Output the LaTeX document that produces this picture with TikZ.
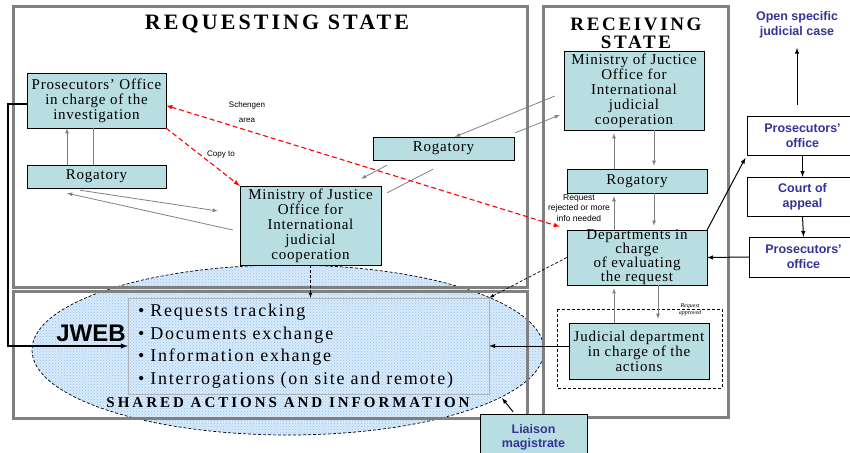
\documentclass[tikz,border=0pt]{standalone}
\usepackage{fontspec}
\setmainfont{Liberation Serif}
\setsansfont{Liberation Sans}
\newfontfamily\boxfont[LetterSpace=5]{Liberation Serif}
\newfontfamily\capsfont[LetterSpace=14]{Liberation Serif}
\newfontfamily\listfont[LetterSpace=10]{Liberation Serif}
\usetikzlibrary{positioning}
\usetikzlibrary{patterns}
\definecolor{boxcyan}{RGB}{184,222,225}
\definecolor{framegray}{RGB}{128,128,128}
\definecolor{labelblue}{RGB}{51,51,153}
\definecolor{cloudpale}{RGB}{216,234,251}
\definecolor{clouddots}{RGB}{150,196,240}
\tikzset{basic/.style={draw,fill=boxcyan,align=center,inner sep=0pt,
                       font=\boxfont\fontsize{15}{15}\selectfont}}
\tikzset{outlined/.style={draw,fill=white,text=labelblue,align=center,
                          font=\sffamily\bfseries\fontsize{12.5}{15}\selectfont}}
\tikzset{statetitle/.style={align=center,
                            font=\capsfont\bfseries\fontsize{22}{18}\selectfont}}
\tikzset{smalltext/.style={align=center,font=\sffamily\fontsize{8}{15}\selectfont}}
\tikzset{frame/.style={draw=framegray,line width=3pt}}
\tikzset{link/.style={draw=gray,line width=0.8pt}}
\tikzset{blacklink/.style={draw=black,line width=1pt}}
\tikzset{dashlink/.style={draw=black,line width=0.7pt,dash pattern=on 3pt off 2pt}}
\tikzset{redlink/.style={draw=red,line width=1.1pt,dash pattern=on 5pt off 3pt}}

\begin{document}
\begin{tikzpicture}[x=1pt,y=-1pt,>=latex]
    \useasboundingbox (0,0) rectangle (850,452);

    \draw[preaction={fill=cloudpale},pattern=crosshatch dots,pattern color=clouddots,dashlink]
        (288,350) ellipse [x radius=256pt, y radius=85pt];

    \draw[frame] (13,7) rectangle (527,287);
    \draw[frame] (13,291) rectangle (527,418);
    \draw[frame] (543,7) rectangle (728,417);
    \draw[dashlink] (557,309) rectangle (722,388);

    \node[statetitle] (reqstate) at (277,24) {REQUESTING STATE};
    \node[statetitle,font=\capsfont\bfseries\fontsize{19}{18}\selectfont] (recstate) at (636,33) {RECEIVING\\STATE};

    \node[basic,minimum width=139pt,minimum height=55pt] (pros) at (96.5,100.5) {Prosecutors’ Office\\in charge of the\\investigation};
    \node[basic,minimum width=139pt,minimum height=23pt] (rogl) at (96.5,176.5) {Rogatory};
    \node[basic,minimum width=141pt,minimum height=79pt] (minl) at (310.5,225.5) {Ministry of Justice\\Office for\\International\\judicial\\cooperation};
    \node[basic,minimum width=141pt,minimum height=23pt] (rogm) at (443.5,148.5) {Rogatory};

    \node[basic,minimum width=140pt,minimum height=79pt] (minr) at (634,90.5) {Ministry of Juctice\\Office for\\International\\judicial\\cooperation};
    \node[basic,minimum width=140pt,minimum height=24pt] (rogr) at (637,181) {Rogatory};
    \node[basic,minimum width=140pt,minimum height=55pt,font=\boxfont\fontsize{15}{14}\selectfont] (dept) at (637,257.5) {Departments in\\charge\\of evaluating\\the request};
    \node[basic,minimum width=140pt,minimum height=56pt] (jud) at (639,351) {Judicial department\\in charge of the\\actions};

    \node[draw=gray!60,minimum width=361pt,minimum height=96pt,text width=341pt,inner xsep=10pt,align=left,
          font=\listfont\fontsize{18}{22.6}\selectfont] (shared) at (308.5,346)
        {\textbullet{} Requests tracking\\\textbullet{} Documents exchange\\\textbullet{} Information exhange\\\textbullet{} Interrogations (on site and remote)};
    \node[font=\sffamily\bfseries\fontsize{24}{24}\selectfont] (jweb) at (91,333) {JWEB};
    \node[statetitle,font=\capsfont\bfseries\fontsize{15}{15}\selectfont\addfontfeature{LetterSpace=20}] (sharedtitle) at (288,403) {SHARED ACTIONS AND INFORMATION};

    \node[align=center,text=labelblue,font=\sffamily\bfseries\fontsize{12.5}{15}\selectfont] (opencase) at (797,25) {Open specific\\judicial case};
    \node[outlined,minimum width=111pt,minimum height=39pt] (profa) at (802.5,135.5) {Prosecutors’\\office};
    \node[outlined,minimum width=111pt,minimum height=39pt] (appeal) at (802.5,196.5) {Court of\\appeal};
    \node[outlined,minimum width=109pt,minimum height=40pt] (profb) at (803.5,257) {Prosecutors’\\office};
    \node[outlined,fill=boxcyan,minimum width=107pt,minimum height=47pt,font=\sffamily\bfseries\fontsize{12.5}{14}\selectfont] (liaison) at (533.5,437.5) {Liaison\\magistrate};

    \node[smalltext] (schengen) at (247,112.5) {Schengen\\area};
    \node[smalltext] (copyto) at (221,155) {Copy to};
    \node[smalltext,font=\sffamily\fontsize{8.5}{10.5}\selectfont] (rejected) at (579,208) {Request\\rejected or more\\info needed};
    \node[align=center,font=\itshape\fontsize{6}{7}\selectfont] (approved) at (690,309.5) {Request\\approved};

    \coordinate (upx) at (614,0);
    \coordinate (downx) at (654,0);
    \coordinate (lowdownx) at (658,0);
    \coordinate (cloudrim) at (502,398);

    \draw[link,->] ([xshift=-29.5pt]rogl.north) -- ([xshift=-29.5pt]pros.south);
    \draw[link] ([xshift=-3.5pt]rogl.north) -- ([xshift=-3.5pt]pros.south);
    \draw[link,->] ([shift={(-16.5,2)}]rogl.south) -- ([shift={(-22,-14.5)}]minl.west);
    \draw[link,->] ([shift={(-7,4.5)}]minl.west) -- ([shift={(-29.5,5)}]rogl.south);
    \draw[link,->] ([shift={(-56.5,5)}]rogm.south) -- ([shift={(-20,-7)}]minl.north east);
    \draw[link] ([shift={(-10.5,9)}]rogm.south) -- ([shift={(6,7)}]minl.north east);
    \draw[link,->] ([shift={(-9,5.5)}]minr.west) -- ([shift={(11.5,0)}]rogm.north);
    \draw[link,->] ([shift={(1,-4)}]rogm.north east) -- ([shift={(-4,24.5)}]minr.west);

    \draw[link,->,shorten >=3pt] (rogr.north -| upx) -- (minr.south -| upx);
    \draw[link,->,shorten >=3pt] (minr.south -| downx) -- (rogr.north -| downx);
    \draw[link,->,shorten >=3pt] (dept.north -| upx) -- (rogr.south -| upx);
    \draw[link,->,shorten >=4pt] (rogr.south -| downx) -- (dept.north -| downx);
    \draw[link,->,shorten >=3pt] (jud.north -| upx) -- (dept.south -| upx);
    \draw[link,->,shorten >=4pt] (dept.south -| lowdownx) -- (jud.north -| lowdownx);

    \draw[blacklink,line width=1.4pt,->] ([yshift=-3.5pt]pros.west) -- ++(-19,0) |- (shared.west);
    \draw[blacklink,->] (jud.west |- shared.east) -- (shared.east);
    \draw[dashlink,->] (minl.south) -- (minl.south |- shared.north);
    \draw[dashlink,->] (dept.west) -- (shared.north east);

    \draw[blacklink,->,shorten >=3pt] (dept.north east) -- (profa.south west);
    \draw[blacklink,->] (profa.south) -- (appeal.north);
    \draw[blacklink,->] (appeal.south) -- (profb.north);
    \draw[blacklink,->] (profb.west) -- (dept.east);
    \draw[blacklink,->,shorten <=11pt,shorten >=6pt] (profa.north -| opencase.south) -- (opencase.south);
    \draw[blacklink,->] ([shift={(-20.5,-2)}]liaison.north) -- (cloudrim);

    \draw[redlink,<->] ([yshift=-5pt]pros.east) -- ([shift={(-7,-3)}]dept.north west);
    \draw[redlink,->] (pros.south east) -- (minl.north west);

\end{tikzpicture}
\end{document}
